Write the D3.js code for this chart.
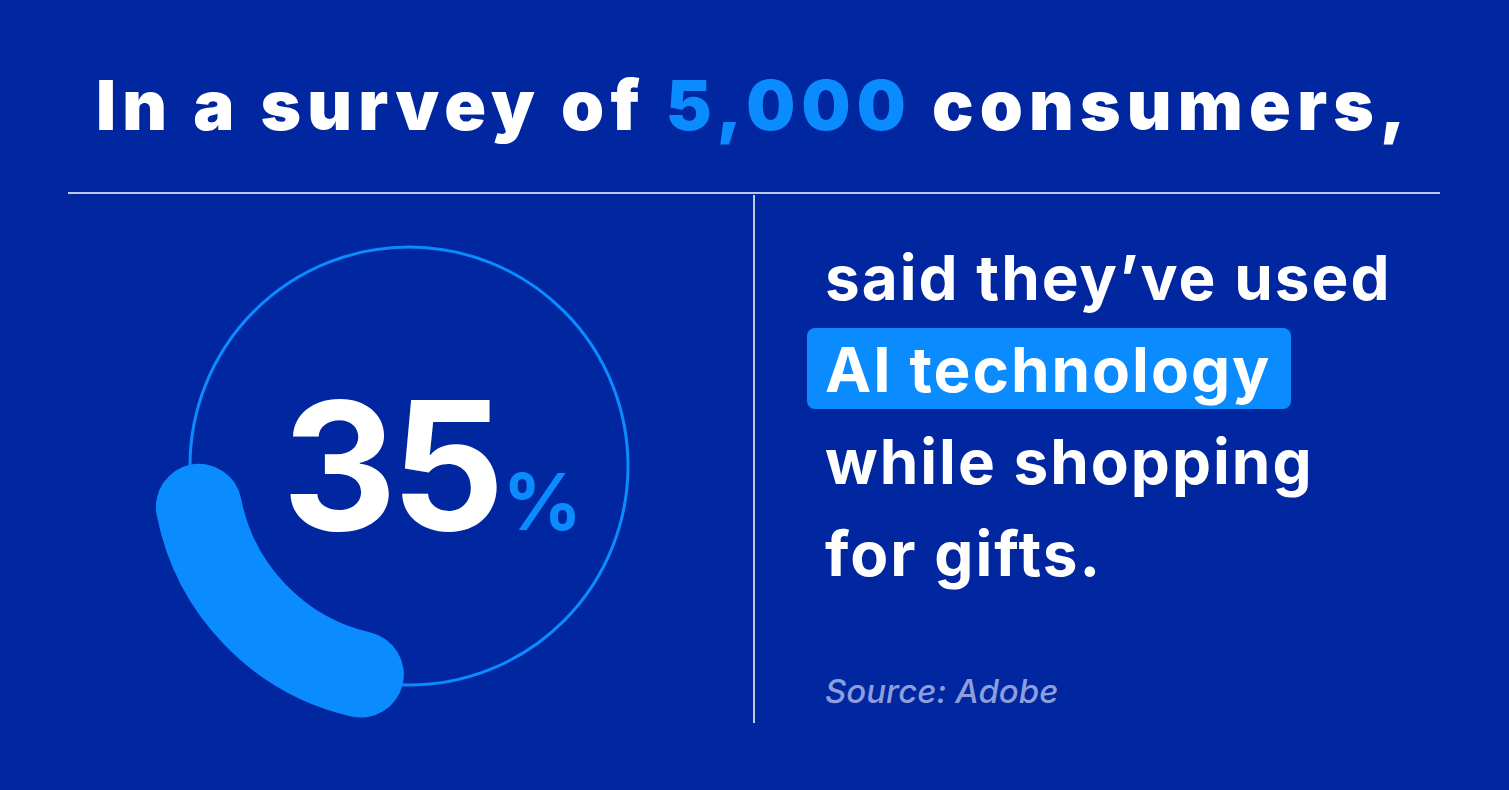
<!DOCTYPE html>
<html><head><meta charset="utf-8">
<script src="https://cdn.jsdelivr.net/npm/d3@7"></script>
<style>body{margin:0;background:#0026a0;overflow:hidden}</style>
</head><body>
<script>
const share = 35
const arcStartDeg = 193, arcEndDeg = 259
const titleParts = [["In a survey of ", "#fff"], ["5,000", "#0a8cff"], [" consumers,", "#fff"]]
const bodyLines = ["said they’ve used", "AI technology", "while shopping", "for gifts."]
const source = "Source: Adobe"

const W = 1509, H = 790
const font = "Inter, 'Open Sans', sans-serif"
const svg = d3.select("body").append("svg").attr("width", W).attr("height", H)
svg.append("rect").attr("width", W).attr("height", H).attr("fill", "#0026a0")

svg.append("text").attr("x", 754).attr("y", 130).attr("text-anchor", "middle")
  .attr("font-family", font).attr("font-weight", 900).attr("font-size", 69)
  .attr("letter-spacing", 6.2)
  .selectAll("tspan").data(titleParts).join("tspan")
  .attr("fill", d => d[1]).text(d => d[0])

svg.append("line").attr("x1", 68).attr("x2", 1440).attr("y1", 193).attr("y2", 193)
  .attr("stroke", "#fff").attr("stroke-width", 1.5)
svg.append("line").attr("x1", 754).attr("x2", 754).attr("y1", 195).attr("y2", 723)
  .attr("stroke", "#fff").attr("stroke-width", 1.5)

const g = svg.append("g").attr("transform", "translate(409,466)")
g.append("circle").attr("r", 219).attr("fill", "none").attr("stroke", "#0a8cff").attr("stroke-width", 3)
const rad = d3.scaleLinear().domain([0, 360]).range([0, 2 * Math.PI])
const path = d3.path()
const a0 = rad(arcStartDeg) - Math.PI / 2, a1 = rad(arcEndDeg) - Math.PI / 2
path.arc(0, 0, 214, a0, a1)
g.append("path").attr("d", path.toString()).attr("fill", "none")
  .attr("stroke", "#0a8cff").attr("stroke-width", 86).attr("stroke-linecap", "round")

const num = svg.append("text").attr("x", 282).attr("y", 530).attr("font-family", font).attr("font-weight", 700)
num.append("tspan").attr("font-size", 178).attr("fill", "#fff").attr("letter-spacing", -6).text(share)
num.append("tspan").attr("font-size", 78).attr("fill", "#0a8cff").attr("dx", 4).text("%")

svg.append("rect").attr("x", 807).attr("y", 328).attr("width", 484).attr("height", 81).attr("rx", 8).attr("fill", "#0a8cff")
svg.selectAll(".body").data(bodyLines).join("text")
  .attr("x", 825).attr("y", (d, i) => 300 + i * 92)
  .attr("font-family", font).attr("font-weight", 700).attr("font-size", 62)
  .attr("letter-spacing", 2)
  .attr("fill", "#fff").text(d => d)

svg.append("text").attr("x", 825).attr("y", 703).attr("font-family", font)
  .attr("font-style", "italic").attr("font-weight", 500).attr("font-size", 33)
  .attr("fill", "#8c9fdc").text(source)
</script>
</body></html>
